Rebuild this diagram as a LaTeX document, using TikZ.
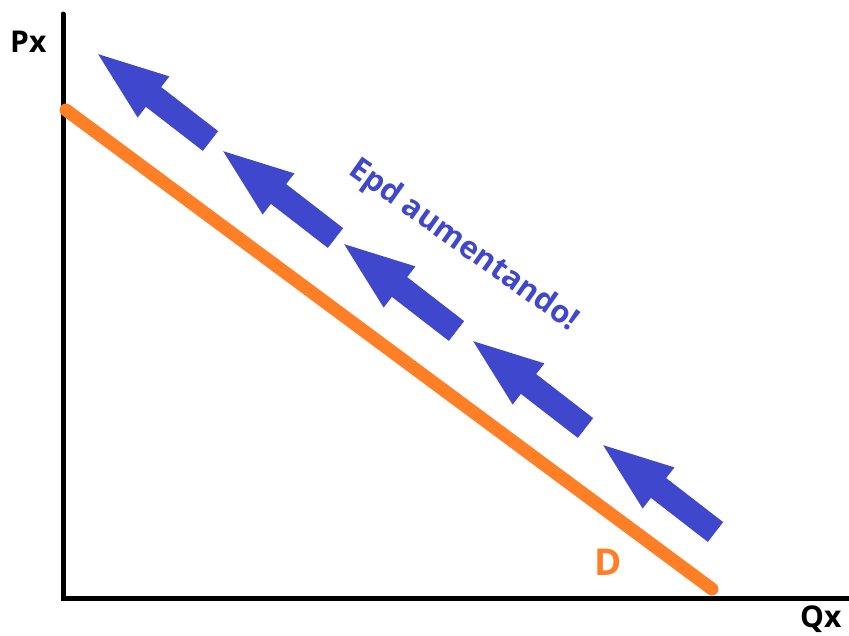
\documentclass[tikz,border=0pt]{standalone}
\usepackage{fontspec}
\setmainfont{Open Sans}
\definecolor{arrowblue}{HTML}{3F48CC}
\definecolor{dorange}{HTML}{FF7F27}
\begin{document}
\begin{tikzpicture}[x=1pt,y=-1pt,
  axis/.style={line width=5pt, line cap=round},
  demand/.style={line width=13pt, draw=dorange, line cap=round},
  lbl/.style={font=\bfseries\fontsize{30}{36}\selectfont, inner sep=0pt, anchor=base west},
  bigarrow/.pic={\fill[arrowblue] (0,-12.5) -- (72,-12.5) -- (72,-26) -- (142,0) -- (72,26) -- (72,12.5) -- (0,12.5) -- cycle;}
]
\useasboundingbox (0,0) rectangle (849,635);
% axes
\coordinate (top) at (63,14);
\coordinate (origin) at (63,598);
\coordinate (right) at (849,598);
\draw[axis] (top) -- (origin) -- (right);
% demand line
\coordinate (d1) at (66,110);
\coordinate (d2) at (712,589);
\draw[demand] (d1) -- (d2);
% arrows
\foreach \x/\y in {210.5/141, 335.5/238, 456.5/331, 585.5/428, 715.5/532}
  \pic[rotate=142.3] at (\x,\y) {bigarrow};
% labels
\node[lbl] (px) at (10,52) {Px};
\node[lbl] (qx) at (800,627) {Qx};
\node[lbl, font=\bfseries\fontsize{37}{44}\selectfont, text=dorange] (dlbl) at (594,575) {D};
\node[font=\bfseries\fontsize{31}{37}\selectfont, text=arrowblue, inner sep=0pt, anchor=base, rotate=-35.3] (epd) at (458.5,252.5) {Epd aumentando!};
\end{tikzpicture}
\end{document}
